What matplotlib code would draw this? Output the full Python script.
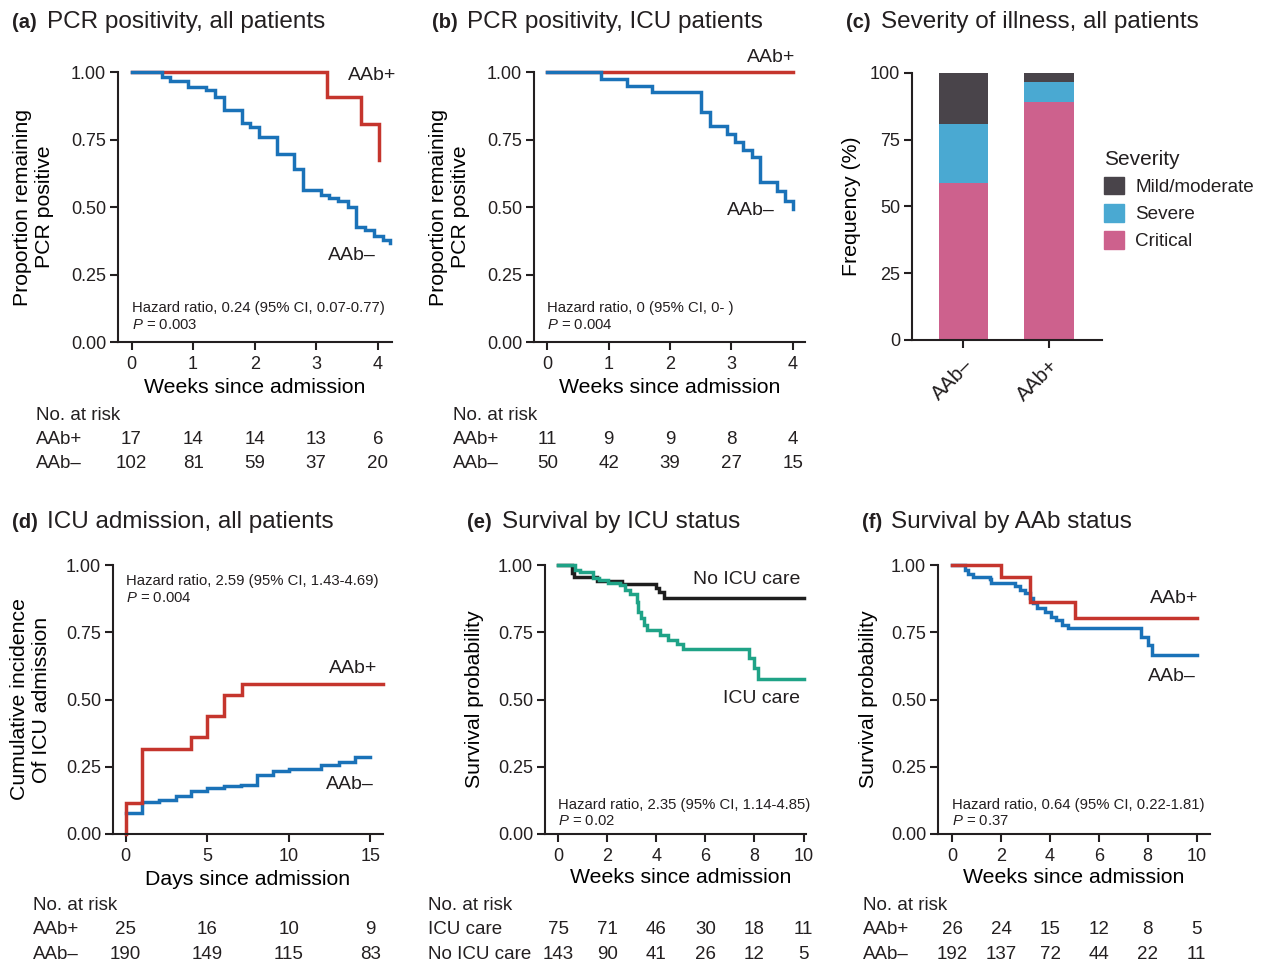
import matplotlib
matplotlib.use("Agg")
import matplotlib.pyplot as plt
from matplotlib.patches import Patch
from matplotlib.transforms import blended_transform_factory

plt.rcParams['font.family'] = ['Liberation Sans', 'DejaVu Sans']
plt.rcParams['mathtext.fontset'] = 'custom'
plt.rcParams['mathtext.rm'] = 'Liberation Sans'
plt.rcParams['mathtext.it'] = 'Liberation Sans:italic'
plt.rcParams['text.color'] = '#231f20'
plt.rcParams['axes.edgecolor'] = '#231f20'
plt.rcParams['xtick.color'] = '#231f20'
plt.rcParams['ytick.color'] = '#231f20'

RED = '#c5352d'
BLUE = '#1a72b8'
TEAL = '#1fa387'
BLACK = '#1e1e1e'
NEG = 'AAb\u2013'
POS = 'AAb+'

# (a) PCR positivity, all patients
a_pos_t = [0, 3.17, 3.73, 4.02]
a_pos_s = [1.0, 0.909, 0.806, 0.674]
a_neg_t = [0, 0.49, 0.63, 0.92, 1.21, 1.35, 1.50, 1.79, 1.93, 2.07, 2.36, 2.64,
           2.79, 3.07, 3.21, 3.36, 3.51, 3.65, 3.79, 3.94, 4.08, 4.2]
a_neg_s = [1.0, 0.981, 0.965, 0.943, 0.932, 0.907, 0.860, 0.810, 0.798, 0.760, 0.695, 0.640,
           0.562, 0.543, 0.533, 0.521, 0.500, 0.425, 0.413, 0.394, 0.376, 0.365]
a_risk_t = [0, 1, 2, 3, 4]
a_risk_pos = [17, 14, 14, 13, 6]
a_risk_neg = [102, 81, 59, 37, 20]

# (b) PCR positivity, ICU patients
b_pos_t = [0, 4.0]
b_pos_s = [1.0, 1.0]
b_neg_t = [0, 0.87, 1.29, 1.71, 2.51, 2.65, 2.92, 3.06, 3.19, 3.33, 3.47, 3.74, 3.87, 4.0]
b_neg_s = [1.0, 0.975, 0.950, 0.925, 0.851, 0.800, 0.769, 0.739, 0.711, 0.684, 0.593, 0.558, 0.522, 0.491]
b_risk_t = [0, 1, 2, 3, 4]
b_risk_pos = [11, 9, 9, 8, 4]
b_risk_neg = [50, 42, 39, 27, 15]

# (c) Severity of illness
c_groups = [NEG, POS]
c_critical = [58.8, 89.2]
c_severe = [22.0, 7.3]
c_mild = [19.2, 3.5]
c_colors = {'Mild/moderate': '#49444a', 'Severe': '#4aa9d2', 'Critical': '#cd618d'}

# (d) ICU admission, all patients
d_pos_t = [0, 0, 1.02, 4.03, 5.0, 6.02, 7.12, 15.77]
d_pos_c = [0, 0.115, 0.316, 0.359, 0.437, 0.517, 0.558, 0.558]
d_neg_t = [0, 1.02, 2.04, 3.07, 4.03, 5.0, 6.02, 7.09, 8.05, 9.03, 10.0, 12.0, 13.06, 14.04, 15.0]
d_neg_c = [0.078, 0.119, 0.125, 0.143, 0.158, 0.171, 0.177, 0.183, 0.218, 0.235, 0.242,
           0.257, 0.267, 0.285, 0.285]
d_risk_t = [0, 5, 10, 15]
d_risk_pos = [25, 16, 10, 9]
d_risk_neg = [190, 149, 115, 83]

# (e) Survival by ICU status
e_noicu_t = [0, 0.57, 0.66, 1.56, 2.59, 4.0, 4.1, 4.31, 10.0]
e_noicu_s = [1.0, 0.969, 0.957, 0.942, 0.928, 0.913, 0.901, 0.879, 0.879]
e_icu_t = [0, 0.68, 0.87, 1.43, 1.67, 2.04, 2.52, 2.72, 2.92, 3.20, 3.27, 3.37, 3.48, 3.63,
           4.15, 4.49, 4.83, 5.08, 7.76, 7.96, 8.16, 10.0]
e_icu_s = [1.0, 0.981, 0.973, 0.953, 0.944, 0.932, 0.926, 0.907, 0.891, 0.864, 0.827, 0.802,
           0.777, 0.759, 0.740, 0.722, 0.706, 0.688, 0.656, 0.616, 0.577, 0.577]
e_risk_t = [0, 2, 4, 6, 8, 10]
e_risk_icu = [75, 71, 46, 30, 18, 11]
e_risk_noicu = [143, 90, 41, 26, 12, 5]

# (f) Survival by AAb status
f_pos_t = [0, 2.0, 3.17, 5.01, 10.0]
f_pos_s = [1.0, 0.957, 0.864, 0.804, 0.804]
f_neg_t = [0, 0.50, 0.64, 0.85, 1.53, 1.60, 2.55, 2.76, 2.96, 3.17, 3.31, 3.47, 3.78, 4.05,
           4.26, 4.47, 4.74, 7.74, 8.02, 8.16, 10.0]
f_neg_s = [1.0, 0.981, 0.965, 0.957, 0.948, 0.932, 0.923, 0.907, 0.895, 0.876, 0.858, 0.839,
           0.824, 0.808, 0.796, 0.777, 0.765, 0.734, 0.703, 0.666, 0.666]
f_risk_t = [0, 2, 4, 6, 8, 10]
f_risk_pos = [26, 24, 15, 12, 8, 5]
f_risk_neg = [192, 137, 72, 44, 22, 11]

W, H = 1263, 961
fig = plt.figure(figsize=(W / 100, H / 100), dpi=100)


def px_axes(left, top, right, bottom):
    return fig.add_axes([left / W, 1 - bottom / H, (right - left) / W, (bottom - top) / H])


def style_axes(ax):
    for s in ['top', 'right']:
        ax.spines[s].set_visible(False)
    for s in ['left', 'bottom']:
        ax.spines[s].set_linewidth(1.5)
    ax.tick_params(direction='out', length=5.5, width=1.5, labelsize=13)
    ax.tick_params(axis='x', pad=4.5)
    ax.tick_params(axis='y', pad=3)


def panel_title(x, y, tag, text, x_text):
    fig.text(x / W, 1 - y / H, tag, fontsize=14.5, fontweight='bold', va='center')
    fig.text(x_text / W, 1 - y / H, text, fontsize=17.5, va='center')


def risk_table(ax, lab_x, times, rows, y0=-0.273, dy=-0.089):
    tr = blended_transform_factory(ax.transData, ax.transAxes)
    ax.text(lab_x, y0, 'No. at risk', transform=ax.transAxes, fontsize=13.5, va='center')
    for i, (name, vals) in enumerate(rows):
        y = y0 + dy * (i + 1)
        ax.text(lab_x, y, name, transform=ax.transAxes, fontsize=13.5, va='center')
        for t, v in zip(times, vals):
            ax.text(t, y, str(v), transform=tr, fontsize=13.5, ha='center', va='center')


def km_axes(ax, xlim, xticks, ylabel, ylab_x, xlabel, xlab_y, xlab_x=0.5):
    style_axes(ax)
    ax.set_xlim(*xlim)
    ax.set_ylim(0, 1.0)
    ax.set_xticks(xticks)
    ax.set_yticks([0, 0.25, 0.5, 0.75, 1.0])
    ax.set_yticklabels(['0.00', '0.25', '0.50', '0.75', '1.00'])
    ax.set_ylabel(ylabel, fontsize=15.3)
    ax.yaxis.set_label_coords(ylab_x, 0.5)
    ax.yaxis.label.set_verticalalignment('center')
    ax.set_xlabel(xlabel, fontsize=15.3)
    ax.xaxis.set_label_coords(xlab_x, xlab_y)
    ax.xaxis.label.set_verticalalignment('center')


def curve(ax, t, s, color):
    ax.step(t, s, where='post', color=color, lw=2.5, clip_on=False, solid_joinstyle='miter')


def hr_text(ax, y, text):
    ax.text(0, y, text, transform=blended_transform_factory(ax.transData, ax.transAxes),
            fontsize=10.7, va='center', linespacing=1.25)


# ---- (a)
ax = px_axes(118, 72, 392, 342)
km_axes(ax, (-0.22, 4.23), a_risk_t, 'Proportion remaining\nPCR positive', -0.310,
        'Weeks since admission', -0.167)
curve(ax, a_pos_t, a_pos_s, RED)
curve(ax, a_neg_t, a_neg_s, BLUE)
ax.text(4.30, 0.986, POS, fontsize=14, ha='right', va='center')
ax.text(3.96, 0.32, NEG, fontsize=14, ha='right', va='center')
hr_text(ax, 0.095, 'Hazard ratio, 0.24 (95% CI, 0.07-0.77)\n$P$ = 0.003')
risk_table(ax, -0.299, a_risk_t, [(POS, a_risk_pos), (NEG, a_risk_neg)])
panel_title(12, 22, '(a)', 'PCR positivity, all patients', 47)

# ---- (b)
ax = px_axes(534, 72, 805, 342)
km_axes(ax, (-0.22, 4.2), b_risk_t, 'Proportion remaining\nPCR positive', -0.310,
        'Weeks since admission', -0.167)
curve(ax, b_pos_t, b_pos_s, RED)
curve(ax, b_neg_t, b_neg_s, BLUE)
ax.text(4.04, 1.053, POS, fontsize=14, ha='right', va='center')
ax.text(3.71, 0.488, NEG, fontsize=14, ha='right', va='center')
hr_text(ax, 0.095, 'Hazard ratio, 0 (95% CI, 0- )\n$P$ = 0.004')
risk_table(ax, -0.299, b_risk_t, [(POS, b_risk_pos), (NEG, b_risk_neg)])
panel_title(432, 22, '(b)', 'PCR positivity, ICU patients', 467)

# ---- (c)
ax = px_axes(912, 73, 1102, 340)
style_axes(ax)
xs = range(len(c_groups))
ax.bar(xs, c_critical, width=0.58, color=c_colors['Critical'])
ax.bar(xs, c_severe, width=0.58, bottom=c_critical, color=c_colors['Severe'])
bottoms = [a + b for a, b in zip(c_critical, c_severe)]
ax.bar(xs, c_mild, width=0.58, bottom=bottoms, color=c_colors['Mild/moderate'])
ax.set_xlim(-0.6, 1.62)
ax.set_ylim(0, 100)
ax.set_yticks([0, 25, 50, 75, 100])
ax.set_xticks(list(xs))
ax.set_xticklabels(c_groups, rotation=45, ha='right', rotation_mode='anchor', fontsize=14.5)
ax.tick_params(axis='x', pad=6)
ax.set_ylabel('Frequency (%)', fontsize=15.3)
ax.yaxis.set_label_coords(-0.316, 0.5)
ax.yaxis.label.set_verticalalignment('center')
handles = [Patch(color=c_colors[k]) for k in ['Mild/moderate', 'Severe', 'Critical']]
leg = ax.legend(handles, ['Mild/moderate', 'Severe', 'Critical'], title='Severity',
                loc='upper left', bbox_to_anchor=(1104 / W, 1 - 150 / H),
                bbox_transform=fig.transFigure, frameon=False, fontsize=13.6,
                title_fontsize=15, alignment='left', borderpad=0, borderaxespad=0,
                handlelength=1.05, handleheight=1.05, handletextpad=0.6, labelspacing=0.42)
panel_title(846, 22, '(c)', 'Severity of illness, all patients', 881)

# ---- (d)
ax = px_axes(113, 565, 383, 834)
km_axes(ax, (-0.78, 15.77), d_risk_t, 'Cumulative incidence\nOf ICU admission', -0.304,
        'Days since admission', -0.171)
curve(ax, d_neg_t, d_neg_c, BLUE)
curve(ax, d_pos_t, d_pos_c, RED)
ax.text(15.45, 0.614, POS, fontsize=14, ha='right', va='center')
ax.text(15.2, 0.183, NEG, fontsize=14, ha='right', va='center')
hr_text(ax, 0.909, 'Hazard ratio, 2.59 (95% CI, 1.43-4.69)\n$P$ = 0.004')
risk_table(ax, -0.296, d_risk_t, [(POS, d_risk_pos), (NEG, d_risk_neg)], y0=-0.265, dy=-0.091)
panel_title(12, 522, '(d)', 'ICU admission, all patients', 47)

# ---- (e)
ax = px_axes(545, 565, 806, 834)
km_axes(ax, (-0.54, 10.1), e_risk_t, 'Survival probability', -0.272,
        'Weeks since admission', -0.160, xlab_x=0.521)
curve(ax, e_noicu_t, e_noicu_s, BLACK)
curve(ax, e_icu_t, e_icu_s, TEAL)
ax.text(9.87, 0.945, 'No ICU care', fontsize=14, ha='right', va='center')
ax.text(9.87, 0.503, 'ICU care', fontsize=14, ha='right', va='center')
hr_text(ax, 0.078, 'Hazard ratio, 2.35 (95% CI, 1.14-4.85)\n$P$ = 0.02')
risk_table(ax, -0.448, e_risk_t, [('ICU care', e_risk_icu), ('No ICU care', e_risk_noicu)],
           y0=-0.265, dy=-0.091)
panel_title(467, 522, '(e)', 'Survival by ICU status', 502)

# ---- (f)
ax = px_axes(938, 565, 1210, 834)
km_axes(ax, (-0.59, 10.55), f_risk_t, 'Survival probability', -0.257,
        'Weeks since admission', -0.160)
curve(ax, f_neg_t, f_neg_s, BLUE)
curve(ax, f_pos_t, f_pos_s, RED)
ax.text(10.09, 0.874, POS, fontsize=14, ha='right', va='center')
ax.text(9.97, 0.584, NEG, fontsize=14, ha='right', va='center')
hr_text(ax, 0.078, 'Hazard ratio, 0.64 (95% CI, 0.22-1.81)\n$P$ = 0.37')
risk_table(ax, -0.276, f_risk_t, [(POS, f_risk_pos), (NEG, f_risk_neg)], y0=-0.265, dy=-0.091)
panel_title(862, 522, '(f)', 'Survival by AAb status', 891)

fig.savefig('out.png', dpi=100)
